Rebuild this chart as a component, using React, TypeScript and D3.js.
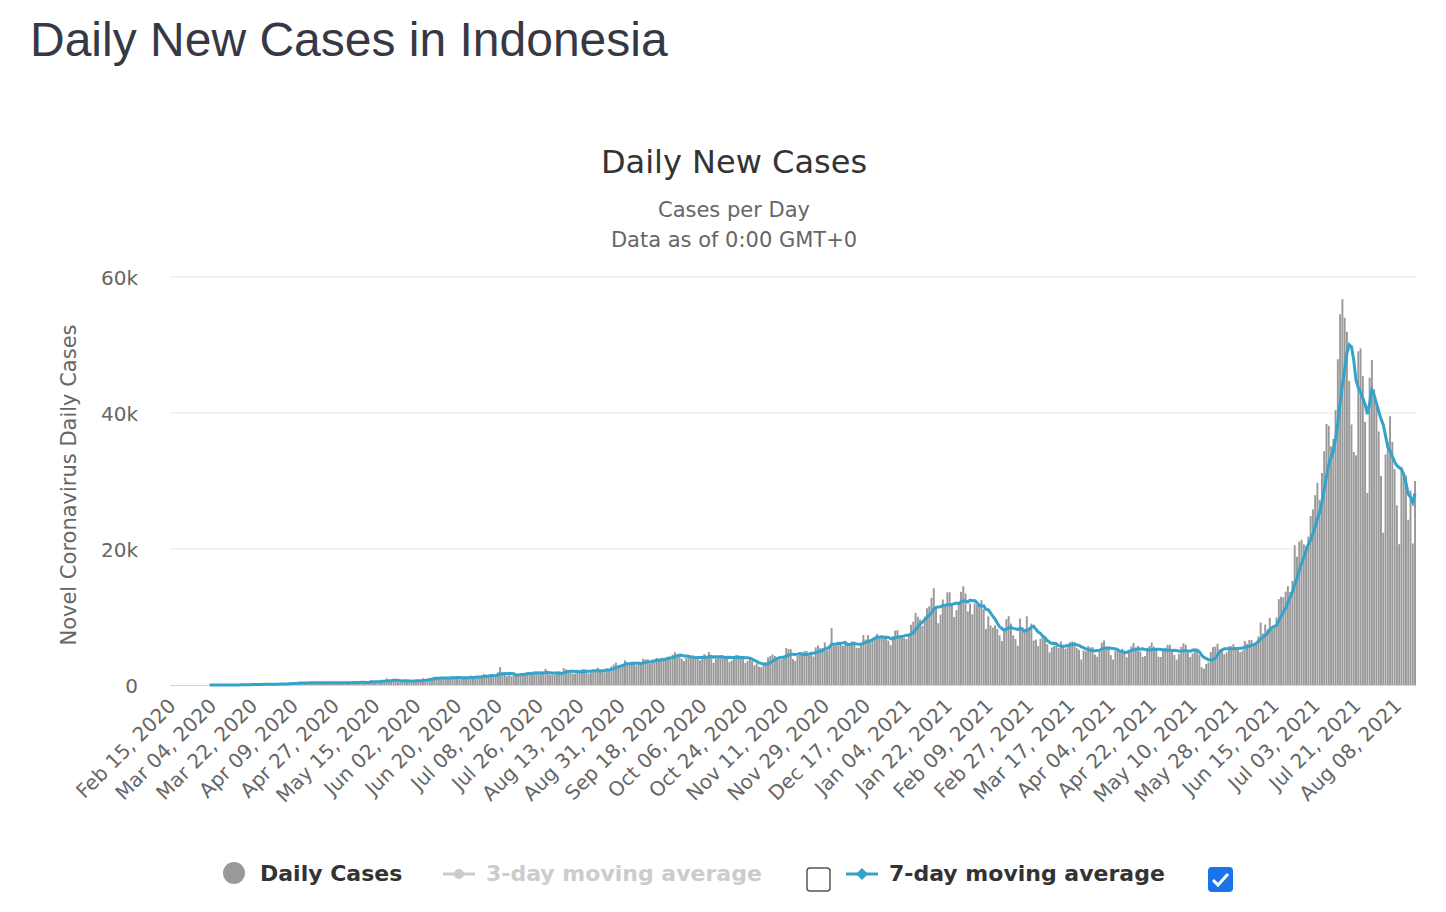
import * as d3 from "d3";

// daily new cases, Indonesia, from Feb 15 2020 (one row per week)
const dailyCases: number[] = [
  0, 0, 0, 0, 0, 0, 0,
  0, 0, 0, 0, 0, 0, 0,
  0, 0, 0, 2, 0, 0, 2,
  0, 2, 13, 8, 7, 0, 35,
  27, 21, 17, 38, 55, 82, 60,
  81, 64, 65, 107, 105, 103, 153,
  109, 130, 129, 114, 149, 113, 196,
  106, 181, 218, 247, 218, 337, 219,
  330, 399, 316, 282, 297, 380, 407,
  325, 327, 185, 375, 283, 357, 436,
  396, 275, 214, 415, 260, 347, 433,
  292, 395, 271, 484, 367, 338, 336,
  533, 387, 233, 484, 689, 568, 490,
  529, 496, 486, 693, 973, 634, 526,
  949, 526, 479, 415, 686, 687, 557,
  700, 467, 609, 684, 585, 703, 993,
  847, 672, 1043, 1052, 1241, 979, 1111,
  1014, 857, 1017, 1106, 1031, 1331, 1041,
  1226, 862, 954, 1051, 1113, 1178, 1385,
  1198, 1082, 1293, 1082, 1385, 1624, 1301,
  1447, 1607, 1209, 1268, 1853, 2657, 1611,
  1671, 1282, 1591, 1282, 1522, 1574, 1462,
  1752, 1693, 1654, 1882, 1906, 1761, 1813,
  1868, 1525, 1748, 1679, 2381, 1904, 1519,
  1560, 1519, 1679, 1922, 1815, 2473, 2277,
  2117, 1893, 1687, 1693, 1942, 2098, 2307,
  2345, 2081, 1673, 1821, 2266, 2197, 2549,
  2037, 2125, 1877, 2447, 2306, 2719, 3003,
  3308, 2858, 2743, 3075, 3622, 3269, 3128,
  3444, 3093, 2880, 3046, 3307, 3861, 3737,
  3806, 3141, 3636, 3507, 3963, 3635, 4018,
  3989, 3989, 4176, 4071, 4465, 4823, 4494,
  4607, 3874, 3509, 4002, 4284, 4174, 4317,
  4007, 3992, 3622, 4056, 4538, 4094, 4850,
  4294, 3267, 3906, 4127, 4411, 4301, 4105,
  4301, 3373, 3602, 4267, 4432, 4369, 4070,
  4117, 3222, 3520, 3843, 3565, 2897, 3143,
  2696, 2618, 2973, 3356, 4065, 4262, 4483,
  4262, 3880, 3779, 3770, 4192, 5444, 5272,
  5272, 3807, 3535, 4265, 4798, 4792, 4998,
  4998, 4360, 4442, 4192, 5534, 5828, 5418,
  5418, 6267, 5092, 5533, 8369, 5803, 5803,
  6027, 6089, 5754, 6058, 6058, 6033, 6388,
  6388, 5489, 5489, 6120, 7354, 6689, 7354,
  6725, 6848, 6982, 7514, 6954, 7199, 6895,
  6877, 6528, 5854, 7203, 8002, 8074, 7203,
  7203, 6877, 6753, 7445, 8854, 9321, 10617,
  10046, 9640, 8692, 10047, 11278, 11557, 12818,
  14224, 11287, 9086, 10365, 12568, 11703, 13632,
  13632, 11788, 9994, 10994, 11948, 13695, 14518,
  13462, 10828, 12001, 10399, 11984, 11749, 11749,
  12482, 11151, 8242, 10103, 8776, 8435, 8776,
  8243, 7300, 6462, 8387, 9687, 10132, 9039,
  7300, 6761, 5789, 9775, 8493, 8232, 10107,
  8232, 9036, 6527, 6680, 5712, 6808, 7264,
  6754, 5999, 4810, 5506, 5767, 6254, 5414,
  6412, 5576, 5320, 5942, 6279, 6412, 6279,
  5443, 5166, 3736, 5096, 4961, 5720, 5547,
  5547, 4474, 4156, 5225, 6254, 6555, 5656,
  5656, 4396, 3737, 5067, 5310, 5016, 5325,
  4950, 4071, 5064, 5656, 6177, 5489, 5756,
  4952, 4127, 4263, 5465, 5720, 6243, 5656,
  5207, 4164, 4130, 5189, 5476, 5909, 5910,
  4859, 4394, 3738, 4549, 5597, 6130, 5911,
  4803, 4106, 4656, 5064, 5112, 4400, 2633,
  2385, 3080, 3314, 4871, 5582, 5647, 6071,
  5280, 5293, 4528, 4798, 5695, 5705, 6001,
  5451, 5297, 4824, 5068, 6486, 6047, 6608,
  6594, 5854, 6110, 7150, 9183, 7570, 8892,
  8161, 9868, 8189, 8575, 9944, 12624, 12990,
  12906, 13737, 14536, 13668, 15308, 20574, 18872,
  21095, 21342, 20694, 20467, 21807, 24836, 25830,
  27913, 29745, 27233, 31189, 34379, 38391, 38124,
  35094, 36197, 40427, 47899, 54517, 56757, 54000,
  51952, 44721, 38325, 34257, 33772, 49071, 49509,
  45416, 38679, 28228, 45203, 47791, 43479, 41168,
  37284, 30738, 22404, 33900, 35867, 39532, 35764,
  31753, 26415, 20709, 32081, 30625, 30788, 24308,
  28598, 20813, 30000,
];
const startDate = new Date(2020, 1, 15);
const yTicks = [0, 20000, 40000, 60000];
const labelEvery = 18;

const W = 1446, H = 912;
const plot = { left: 170, right: 1416, top: 277, bottom: 685 };
const font = "'DejaVu Sans', 'Noto Sans', sans-serif";

export default function App() {
  const dates = dailyCases.map((_, i) => d3.timeDay.offset(startDate, i));
  const x = d3.scaleBand<number>().domain(d3.range(dailyCases.length)).range([plot.left, plot.right]).paddingInner(0.15);
  const y = d3.scaleLinear().domain([0, 60000]).range([plot.bottom, plot.top]);
  const cx = (i: number) => (x(i) as number) + x.bandwidth() / 2;

  const avg = dailyCases.map((_, i) => (i < 6 ? null : d3.mean(dailyCases.slice(i - 6, i + 1)) as number));
  const firstCase = dailyCases.findIndex((v) => v > 0);
  const line = d3.line<number | null>()
    .defined((d, i) => d !== null && i >= firstCase)
    .x((_, i) => cx(i)).y((d) => y(d as number));

  const fmt = d3.timeFormat("%b %d, %Y");
  const labelIdx = d3.range(0, dailyCases.length, labelEvery).filter((i) => i < dailyCases.length - 4);

  return (
    <svg width={W} height={H} style={{ position: "absolute", left: 0, top: 0 }} fontFamily={font}>
      <text x={30} y={56} fontSize={48} fill="#363945" fontFamily="'Liberation Sans', Arial, sans-serif">Daily New Cases in Indonesia</text>
      <text x={734} y={173} textAnchor="middle" fontSize={32} fill="#333">Daily New Cases</text>
      <text x={734} y={217} textAnchor="middle" fontSize={21} fill="#666">Cases per Day</text>
      <text x={734} y={247} textAnchor="middle" fontSize={21} fill="#666">Data as of 0:00 GMT+0</text>

      {yTicks.map((t) => (
        <g key={t}>
          {t > 0 && <line x1={plot.left} x2={plot.right} y1={y(t)} y2={y(t)} stroke="#e6e6e6" />}
          <text x={138} y={y(t) + 8} textAnchor="end" fontSize={20} fill="#666">{t === 0 ? "0" : `${t / 1000}k`}</text>
        </g>
      ))}
      <text transform={`translate(76,${(plot.top + plot.bottom) / 2 + 4}) rotate(-90)`} textAnchor="middle" fontSize={21} fill="#666">Novel Coronavirus Daily Cases</text>

      {dailyCases.map((v, i) => (
        <rect key={i} x={x(i)} y={y(v)} width={x.bandwidth()} height={plot.bottom - y(v)} fill="#999" />
      ))}
      <line x1={plot.left} x2={plot.right} y1={plot.bottom + 0.5} y2={plot.bottom + 0.5} stroke="#ccd6eb" />
      <path d={line(avg) ?? ""} fill="none" stroke="#33a3cc" strokeWidth={3} />

      {labelIdx.map((i) => (
        <text key={i} transform={`translate(${cx(i) + 6},${plot.bottom + 22}) rotate(-45)`} textAnchor="end" fontSize={20} fill="#666">
          {fmt(dates[i])}
        </text>
      ))}

      <g fontSize={22} fontWeight="bold">
        <circle cx={234} cy={873} r={11} fill="#999" />
        <text x={260} y={881} fill="#333">Daily Cases</text>
        <line x1={443} x2={475} y1={874} y2={874} stroke="#ccc" strokeWidth={3} />
        <circle cx={459} cy={874} r={5} fill="#ccc" />
        <text x={486} y={881} fill="#ccc">3-day moving average</text>
        <rect x={807} y={868} width={23} height={23} rx={3} fill="#fff" stroke="#555" strokeWidth={1.5} />
        <line x1={846} x2={878} y1={874} y2={874} stroke="#33a3cc" strokeWidth={3} />
        <path d="M862,868 l6,6 l-6,6 l-6,-6 z" fill="#33a3cc" />
        <text x={889} y={881} fill="#333">7-day moving average</text>
        <rect x={1208} y={867} width={25} height={25} rx={4} fill="#1a73e8" />
        <path d="M1213,880 l5,5 l10,-11" fill="none" stroke="#fff" strokeWidth={3} />
      </g>
    </svg>
  );
}
